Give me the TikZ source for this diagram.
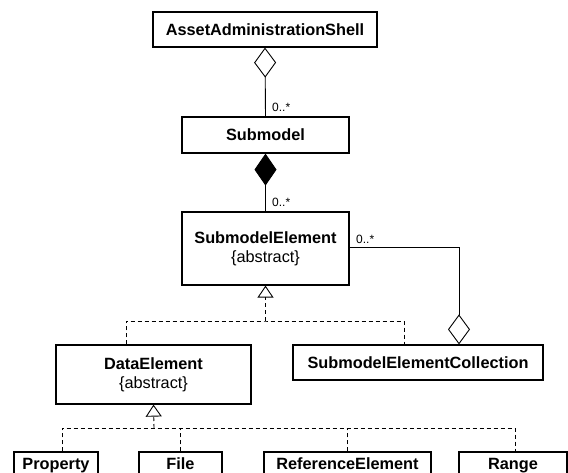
\documentclass[tikz,border=0pt]{standalone}
\usepackage{fontspec}
\setmainfont{Liberation Sans}
\usetikzlibrary{arrows.meta,calc}

\begin{document}
\begin{tikzpicture}[x=1pt,y=-1pt,
  cls/.style={draw, line width=1.2pt, rectangle, inner sep=0pt, align=center,
    font=\fontsize{16.3}{19}\selectfont\bfseries},
  one/.style={cls, text height=11.7pt, text depth=0pt},
  conn/.style={line width=0.9pt},
  gen/.style={conn, dash pattern=on 4pt off 3pt},
  mult/.style={font=\fontsize{12}{14}\selectfont, anchor=west, inner sep=0pt},
  agg/.style={-{Diamond[open,length=30pt,width=22pt,line width=0.9pt]}},
  comp/.style={-{Diamond[length=32pt,width=22pt]}},
  inh/.style={-{Triangle[open,length=12pt,width=16pt,line width=0.9pt]}}
]
  \path[use as bounding box, clip] (0,0) rectangle (568,473);
  \fill[white] (0,0) rectangle (568,473);

  % classes
  \node[one, minimum width=224pt, minimum height=35pt] (aas) at (265,29.5) {AssetAdministrationShell};
  \node[one, minimum width=167pt, minimum height=36pt] (sm) at (265.5,135) {Submodel};
  \node[cls, minimum width=167pt, minimum height=73pt] (sme) at (265.5,248.5)
    {SubmodelElement\\\mdseries\{abstract\}};
  \node[one, minimum width=250pt, minimum height=35pt] (smec) at (418,362.5) {SubmodelElementCollection};
  \node[cls, minimum width=195pt, minimum height=59pt] (de) at (153.5,374.5)
    {DataElement\\\mdseries\{abstract\}};
  \node[one, minimum width=84pt, minimum height=24pt] (prop) at (56,464) {Property};
  \node[one, minimum width=83pt, minimum height=24pt] (file) at (180.5,464) {File};
  \node[one, minimum width=167pt, minimum height=24pt] (refel) at (347.5,464) {ReferenceElement};
  \node[one, minimum width=108pt, minimum height=24pt] (range) at (513,464) {Range};

  % junction points of the generalization trees
  \coordinate (j1) at (265.5,321);
  \coordinate (j2) at (154,428);

  % aggregation and composition
  \draw[conn, agg] (sm.north) -- (aas.south);
  \draw[conn, comp] (sme.north) -- (sm.south);
  \draw[conn, agg] ([yshift=1.5pt]sme.east) -| ([xshift=41pt]smec.north);

  % multiplicities
  \node[mult] (m1) at (272,107) {0..*};
  \node[mult] (m2) at (272,202) {0..*};
  \node[mult] (m3) at (356,239) {0..*};

  % generalization of SubmodelElement
  \draw[gen, inh] (j1) -- (sme.south);
  \draw[gen] ([xshift=-27.5pt]de.north) |- (j1) -| ([xshift=-14pt]smec.north);

  % generalization of DataElement
  \draw[gen, inh] (j2) -- (de.south);
  \draw[gen] ([xshift=6pt]prop.north) |- ($(range.north |- j2)+(2pt,0)$) -- ([xshift=2pt]range.north);
  \draw[gen] (file.north) -- (file.north |- j2);
  \draw[gen] (refel.north) -- (refel.north |- j2);
\end{tikzpicture}
\end{document}
